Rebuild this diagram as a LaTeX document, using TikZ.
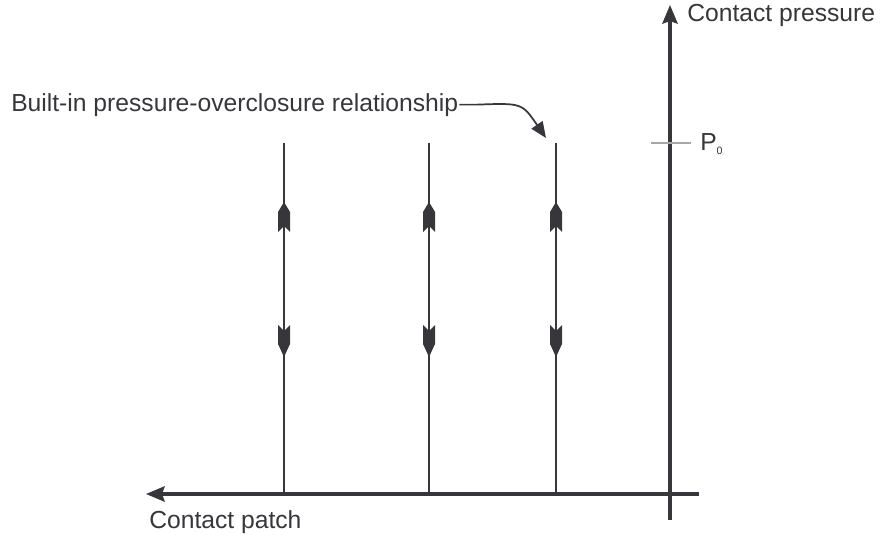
\documentclass[tikz,border=0pt]{standalone}
\usepackage{fontspec}
\setmainfont{Liberation Sans}
\usetikzlibrary{arrows.meta}
\definecolor{ink}{HTML}{36363B}

\tikzset{
  axis/.style={draw=ink, line width=2.3pt},
  relline/.style={draw=ink, line width=1.6pt},
  lbl/.style={text=ink, font=\fontsize{18.5}{22}\selectfont, inner sep=0.75pt},
  uptip/.pic={\fill[ink] (0,0) -- (6,-10) -- (6,-30) -- (0,-24) -- (-6,-30) -- (-6,-10) -- cycle;},
  downtip/.pic={\fill[ink] (0,0) -- (6,13) -- (6,32) -- (0,26) -- (-6,32) -- (-6,13) -- cycle;}
}

\begin{document}
\begin{tikzpicture}[x=0.75pt,y=0.75pt,yscale=-1,xscale=1]
\useasboundingbox (0,0) rectangle (881,535);
% axes
\coordinate (ybot) at (670,520);
\coordinate (ytop) at (670,5);
\coordinate (xright) at (699,494);
\coordinate (xleft) at (146,494);
\draw[axis,-{Stealth[length=14pt,width=11.5pt,inset=2pt]}] (ybot) -- (ytop);
\draw[axis,-{Stealth[length=14pt,width=11.5pt,inset=2pt]}] (xright) -- (xleft);
% P0 tick
\coordinate (tickl) at (651,143);
\coordinate (tickr) at (691,143);
\draw[gray!70, line width=0.8pt] (tickl) -- (tickr);
% relationship lines
\foreach \x/\n in {284/ra,429/rb,556/rc}{
  \coordinate (\n top) at (\x,143);
  \coordinate (\n bot) at (\x,494);
  \draw[relline] (\n top) -- (\n bot);
  \pic at (\x,202) {uptip};
  \pic at (\x,357) {downtip};
}
% labels
\node[lbl, anchor=base west] (ylab) at (686,22) {Contact pressure};
\node[lbl, anchor=base west] (xlab) at (148,528) {Contact patch};
\node[lbl, anchor=base west] (p0) at (699,150) {P\raisebox{-3.5pt}{\fontsize{8}{8}\selectfont 0}};
\node[lbl, anchor=base west] (rel) at (10,111) {Built-in pressure-overclosure relationship};
\coordinate (reltip) at (546,138);
\draw[relline, line width=1.3pt, -{Triangle[length=12pt,width=10pt]}] (rel.east) -- ++(18,0) .. controls (522,103) .. (reltip);
\end{tikzpicture}
\end{document}
